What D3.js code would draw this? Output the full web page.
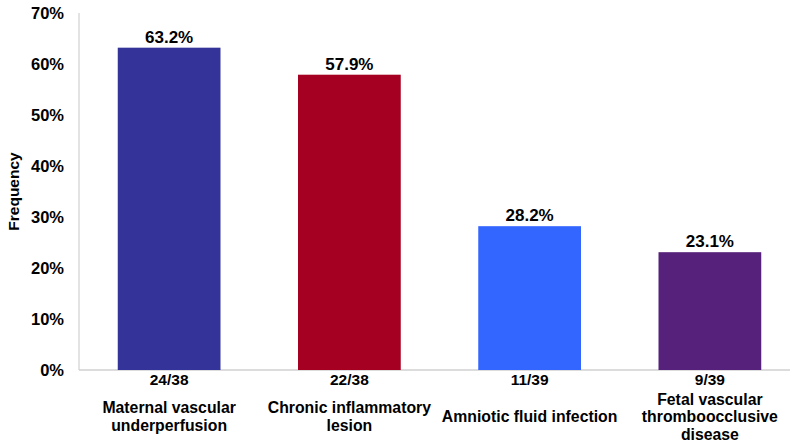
<!DOCTYPE html>
<html><head><meta charset="utf-8">
<script src="https://cdn.jsdelivr.net/npm/d3@7"></script>
<style>body{margin:0;background:#fff}text{font-family:"Liberation Sans",Arial,sans-serif;font-weight:bold;fill:#000}</style>
</head><body><svg id="c" width="800" height="446"></svg>
<script>
const categories = [["Maternal vascular","underperfusion"],["Chronic inflammatory","lesion"],["Amniotic fluid infection"],["Fetal vascular","thromboocclusive","disease"]];
const values = [0.632, 0.579, 0.282, 0.231];
const fractions = ["24/38","22/38","11/39","9/39"];
const colors = ["#333399","#A50021","#3366FF","#55217A"];
const yTicks = [0,0.1,0.2,0.3,0.4,0.5,0.6,0.7];

const svg = d3.select("#c");
const x = d3.scaleBand().domain(d3.range(values.length)).range([79,800]).paddingInner(0.43).paddingOuter(0.215);
const y = d3.scaleLinear().domain([0,0.7]).range([370,13]);

svg.append("line").attr("x1",79).attr("x2",79).attr("y1",y(0.7)).attr("y2",y(0)).attr("stroke","#d0d0d0").attr("stroke-width",1.2);
svg.append("line").attr("x1",79).attr("x2",790).attr("y1",y(0)).attr("y2",y(0)).attr("stroke","#d0d0d0").attr("stroke-width",1.5);

svg.selectAll("text.tick").data(yTicks).enter().append("text").attr("class","tick")
  .attr("x",64).attr("y",d=>y(d)).attr("dy","0.35em").attr("text-anchor","end").style("font-size","16.5px")
  .text(d=>d3.format(".0%")(d));

svg.append("text").attr("transform","translate(19,"+(y(0.35))+") rotate(-90)").attr("text-anchor","middle").style("font-size","15.5px").text("Frequency");

svg.selectAll("rect.bar").data(values).enter().append("rect").attr("class","bar")
  .attr("x",(d,i)=>x(i)).attr("width",x.bandwidth()).attr("y",d=>y(d)).attr("height",d=>y(0)-y(d)).attr("fill",(d,i)=>colors[i]);

svg.selectAll("text.val").data(values).enter().append("text").attr("class","val")
  .attr("x",(d,i)=>x(i)+x.bandwidth()/2).attr("y",d=>y(d)-5).attr("text-anchor","middle").style("font-size","17px")
  .text(d=>(d*100).toFixed(1)+"%");

svg.selectAll("text.frac").data(fractions).enter().append("text").attr("class","frac")
  .attr("x",(d,i)=>x(i)+x.bandwidth()/2).attr("y",385).attr("text-anchor","middle").style("font-size","15.5px").text(d=>d);

categories.forEach((lines,i)=>{
  const cx = x(i)+x.bandwidth()/2;
  const lh = 17.5;
  const startY = 422 - (lines.length-1)*lh/2;
  const t = svg.append("text").attr("text-anchor","middle").style("font-size","15.8px");
  lines.forEach((l,j)=>t.append("tspan").attr("x",cx).attr("y",startY+j*lh).text(l));
});
</script></body></html>
